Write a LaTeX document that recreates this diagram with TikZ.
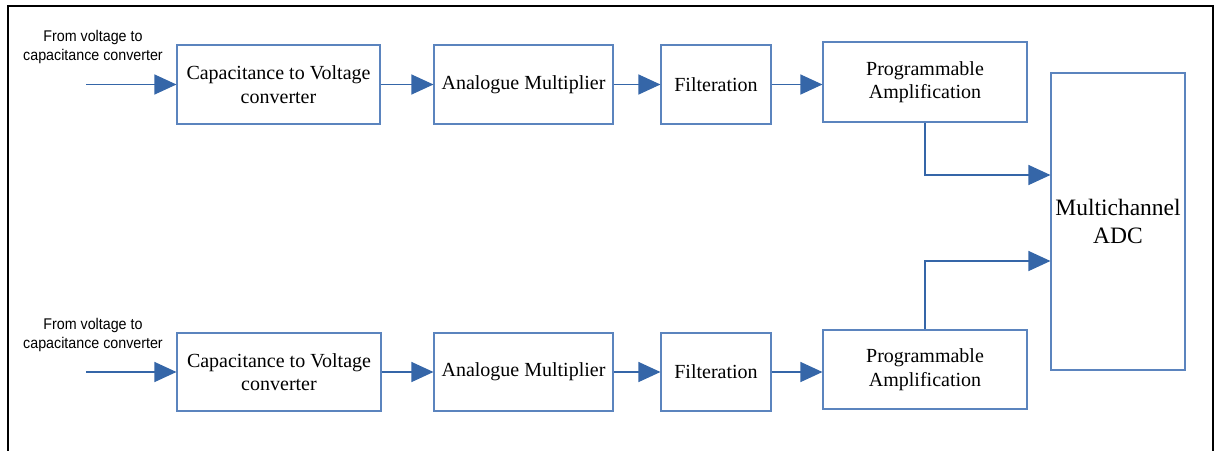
\documentclass[tikz,border=0pt]{standalone}
\usepackage{fontspec}
\setmainfont{Liberation Serif}
\newfontfamily\narrowsans[FakeStretch=0.92]{Liberation Sans}
\usetikzlibrary{arrows.meta}
\definecolor{boxblue}{HTML}{5B84BE}
\definecolor{arrblue}{HTML}{3566A8}
\tikzset{
  blk/.style={draw=boxblue, line width=1.1pt, fill=white, inner sep=0pt, align=center,
    font=\fontsize{20}{23.5}\selectfont},
  conn/.style={draw=arrblue, line width=1.2pt, -{Triangle[length=22pt,width=20pt]}},
  lbl/.style={font=\narrowsans\fontsize{15.5}{18.5}\selectfont, align=center, inner sep=0pt},
}
\begin{document}
\begin{tikzpicture}[x=1pt,y=-1pt]
\useasboundingbox (0,0) rectangle (1221,450);
\draw[line width=2pt] (8,455) -- (8,6) -- (1213,6) -- (1213,455);
% top row
\node[blk, minimum width=203pt, minimum height=79pt] (c1) at (278.5,84.5) {Capacitance to Voltage\\converter};
\node[blk, minimum width=179pt, minimum height=79pt] (m1) at (523.5,84.5) {Analogue Multiplier};
\node[blk, minimum width=110pt, minimum height=79pt] (f1) at (716,84.5) {Filteration};
\node[blk, minimum width=204pt, minimum height=80pt] (p1) at (925,82) {Programmable\\Amplification};
% bottom row
\node[blk, minimum width=204pt, minimum height=78pt] (c2) at (279,372) {Capacitance to Voltage\\converter};
\node[blk, minimum width=179pt, minimum height=78pt] (m2) at (523.5,372) {Analogue Multiplier};
\node[blk, minimum width=110pt, minimum height=78pt] (f2) at (716,372) {Filteration};
\node[blk, minimum width=204pt, minimum height=79pt] (p2) at (925,369.5) {Programmable\\Amplification};
% ADC
\node[blk, minimum width=134pt, minimum height=297pt, font=\fontsize{23.5}{28}\selectfont] (adc) at (1118,221.5) {Multichannel\\ADC};
% labels
\node[lbl] (l1) at (93,47) {From voltage to\\capacitance converter};
\node[lbl] (l2) at (93,335) {From voltage to\\capacitance converter};
\coordinate (i1) at (86,84.5);
\coordinate (i2) at (86,372);
% connectors
\draw[conn] (i1) -- (c1.west);
\draw[conn] (c1.east) -- (c1.east -| m1.west);
\draw[conn] (m1.east) -- (m1.east -| f1.west);
\draw[conn] (f1.east) -- (f1.east -| p1.west);
\draw[conn] (i2) -- (c2.west);
\draw[conn] (c2.east) -- (c2.east -| m2.west);
\draw[conn] (m2.east) -- (m2.east -| f2.west);
\draw[conn] (f2.east) -- (f2.east -| p2.west);
\draw[conn] (p1.south) -- (925,175) -- (adc.west |- 0,175);
\draw[conn] (p2.north) -- (925,261) -- (adc.west |- 0,261);
\end{tikzpicture}
\end{document}
